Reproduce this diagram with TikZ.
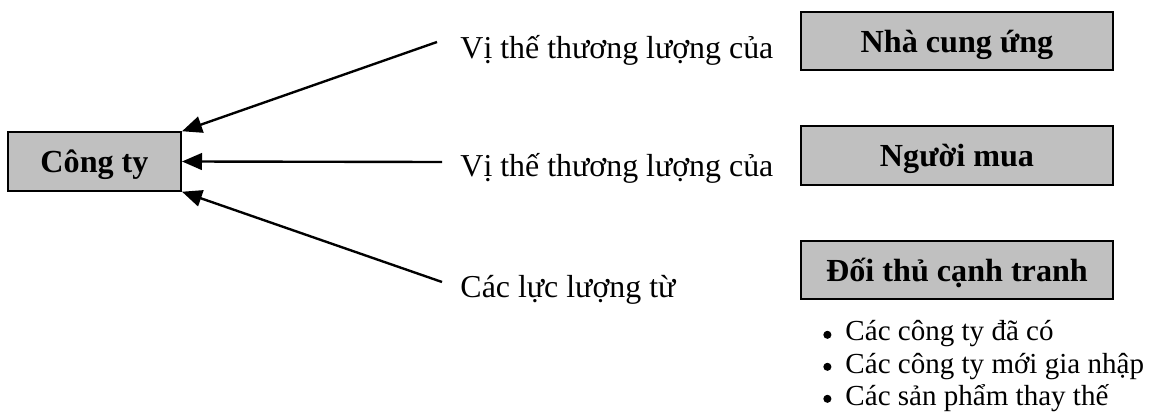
\documentclass[tikz,border=0pt]{standalone}
\usepackage{fontspec}
\setmainfont{Liberation Serif}
\usepackage{xcolor}
\usepackage{tikz}
\usetikzlibrary{arrows.meta, positioning, shadows}

\definecolor{boxgray}{RGB}{192,192,192}

\begin{document}
\begin{tikzpicture}[
      x=0.42pt, y=-0.42pt,
      font=\fontsize{13.4}{16}\selectfont,
      force/.style={draw, line width=0.8pt, fill=boxgray, inner sep=0pt,
                    minimum height=24.6pt, text height=10.5pt, text depth=1pt,
                    font=\fontsize{13.5}{16}\selectfont\bfseries,
                    drop shadow={shadow xshift=0.4pt, shadow yshift=-0.4pt,
                                 fill=black!85, opacity=1}},
      push/.style={-{Triangle[length=8.4pt, width=7pt]}, line width=1pt},
      item/.style={anchor=base west, inner sep=0pt},
      dot/.style={circle, fill, inner sep=0pt, minimum size=3.4pt},
    ]
    % geometry: pixel grid of the page, y grows downwards
    \useasboundingbox (0,0) rectangle (1152,419);

    % the firm on the left
    \node[force, minimum width=72.7pt] (firm) at (94.5,161.5) {Công ty};

    % the three forces on the right
    \node[force, minimum width=131pt] (supplier) at (957,41) {Nhà cung ứng};
    \node[force, minimum width=131pt, below=22.7pt of supplier] (buyer) {Người mua};
    \node[force, minimum width=131pt, below=22.7pt of buyer] (rival) {Đối thủ cạnh tranh};

    % labels in front of the boxes
    \node[item] (lblsup) at (460,59) {Vị thế thương lượng của};
    \node[item] (lblbuy) at (460,177) {Vị thế thương lượng của};
    \node[item] (lblriv) at (460,298) {Các lực lượng từ};

    % arrows into the firm
    \coordinate (fromsup) at (437,42);
    \coordinate (frombuy) at (442,162);
    \coordinate (fromriv) at (442,282);
    \draw[push] (fromsup) -- (firm.north east);
    \draw[push] (frombuy) -- (firm.east);
    \draw[push] (fromriv) -- (firm.south east);

    % kinds of rivals, bulleted
    \foreach \t [count=\i] in {Các công ty đã có, Các công ty mới gia nhập, Các sản phẩm thay thế} {
      \pgfmathsetmacro\yy{341+32*(\i-1)}
      \node[item, font=\fontsize{12.2}{14}\selectfont] (rivitem\i) at (845,\yy) {\t};
      \node[dot] at ([xshift=-7.4pt, yshift=2.6pt]rivitem\i.base west) {};
    }
  \end{tikzpicture}
\end{document}
